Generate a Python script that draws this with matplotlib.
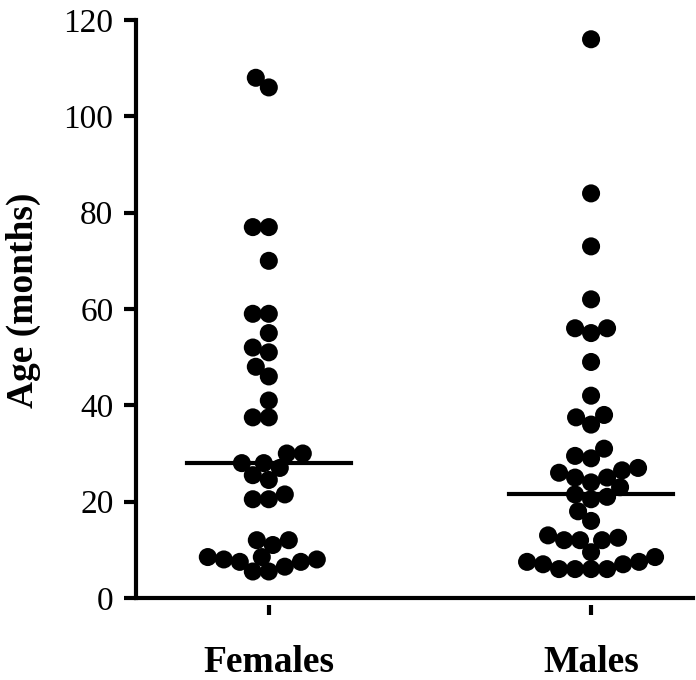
import numpy as np
import matplotlib
matplotlib.use("Agg")
import matplotlib.pyplot as plt

plt.rcParams['font.family'] = ['Liberation Serif', 'DejaVu Serif']

# -----------------------------
# Data
# -----------------------------
groups = ["Females", "Males"]
females = [108, 106, 77, 77, 70, 59, 59, 55, 52, 51, 48, 46, 41, 37.5, 37.5,
           30, 30, 28, 28, 27, 25.5, 24.5, 21.5, 20.5, 20.5, 12, 12, 11,
           8.5, 7.5, 8.5, 8, 8, 7.5, 6.5, 5.5, 5.5]
males = [116, 84, 73, 62, 56, 56, 55, 49, 42, 37.5, 38, 36, 31, 29.5, 29,
         26.5, 27, 25, 26, 25, 23, 24, 21, 21.5, 20.5, 18, 16, 12.5, 13,
         12, 12, 12, 9.5, 8.5, 7.5, 6, 7, 7.5, 6, 6, 7, 6]
medians = [28, 21.5]
yticks = [0, 20, 40, 60, 80, 100, 120]


def swarm_offsets(ax, xc, values, mindist=16.0):
    """Simple beeswarm: place points (sorted by value) as close to the
    centre as possible without getting closer than mindist pixels."""
    pts = ax.transData.transform(np.column_stack([np.full(len(values), xc), values]))
    order = np.argsort(values)
    placed = []
    xs = np.zeros(len(values))
    cx = pts[0, 0]
    for i in order:
        py = pts[i, 1]
        best = None
        for k in range(0, 400):
            for sgn in ((1,) if k == 0 else (-1, 1)):
                px = cx + sgn * k
                ok = all((px - qx) ** 2 + (py - qy) ** 2 >= mindist ** 2 for qx, qy in placed)
                if ok:
                    best = px
                    break
            if best is not None:
                break
        placed.append((best, py))
        xs[i] = best
    data = ax.transData.inverted().transform(np.column_stack([xs, pts[:, 1]]))
    return data[:, 0]


fig = plt.figure(figsize=(6.96, 6.80), dpi=100)
ax = fig.add_axes([0.195, 0.1206, 0.801, 0.85])
ax.set_xlim(-0.413, 1.317)
ax.set_ylim(0, 120)

for i, vals in enumerate([females, males]):
    xs = swarm_offsets(ax, i, vals)
    ax.scatter(xs, vals, s=169, color='black', edgecolors='none', zorder=3, clip_on=False)
    ax.plot([i - 0.255, i + 0.255], [medians[i], medians[i]], color='black', lw=3, zorder=4)

# axes styling
for side in ['top', 'right']:
    ax.spines[side].set_visible(False)
ax.spines['left'].set_linewidth(3)
ax.spines['bottom'].set_visible(False)
ax.spines['bottom'].set_position(('outward', 5))
ax.axhline(0, color='black', lw=3, clip_on=False)

ax.set_yticks(yticks)
ax.tick_params(axis='y', length=9, width=3, pad=7, labelsize=24)
ax.set_xticks([0, 1])
ax.set_xticklabels(groups, fontsize=27, fontweight='bold')
ax.tick_params(axis='x', length=7, width=3, pad=22)
ax.set_ylabel("Age (months)", fontsize=27, fontweight='bold')
ax.yaxis.set_label_coords(-0.17, 0.515)

plt.savefig("out.png", dpi=100)
plt.close()
